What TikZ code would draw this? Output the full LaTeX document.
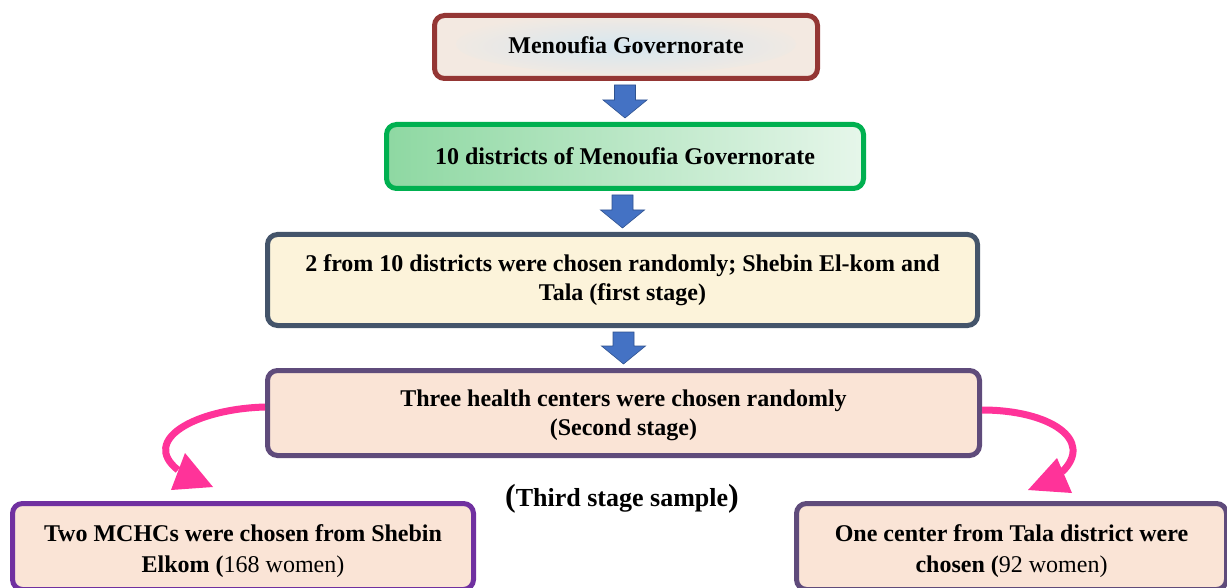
\documentclass[tikz,border=0pt]{standalone}
\usepackage{fontspec}
\setmainfont{Liberation Serif}
\usetikzlibrary{calc,arrows.meta}
\definecolor{bred}{HTML}{943634}
\definecolor{fbeige}{HTML}{F3E9E1}
\definecolor{glow}{HTML}{D6E7F0}
\definecolor{bgreen}{HTML}{00B050}
\definecolor{gleft}{HTML}{8ED8A2}
\definecolor{gright}{HTML}{E6F6EA}
\definecolor{bslate}{HTML}{44546A}
\definecolor{fyellow}{HTML}{FCF3DA}
\definecolor{bpurple}{HTML}{5F4B7B}
\definecolor{bviolet}{HTML}{7030A0}
\definecolor{fpeach}{HTML}{FAE4D6}
\definecolor{arrblue}{HTML}{4472C4}
\definecolor{arrdark}{HTML}{2F528F}
\definecolor{pinkc}{HTML}{FF3399}
\newcommand\blockarr[2]{%
  \filldraw[fill=arrblue, draw=arrdark, line width=0.6pt]
    ($(#2 |- #1)+(-10.5,4)$) -- ($(#2)+(-10.5,-22)$) -- ($(#2)+(-22,-22)$) --
    ($(#2)+(0,-4)$) -- ($(#2)+(22,-22)$) -- ($(#2)+(10.5,-22)$) --
    ($(#2 |- #1)+(10.5,4)$) -- cycle;}
\begin{document}
\begin{tikzpicture}[x=1pt,y=-1pt,
  box/.style={draw, line width=5pt, rounded corners=10pt, align=center, inner sep=0pt,
    font=\fontsize{24}{29}\selectfont\bfseries},
  curv/.style={draw=pinkc, line width=7pt}]
\useasboundingbox (0,0) rectangle (1227,588);
\node[box, draw=bred, fill=fbeige, minimum width=383pt, minimum height=63pt,
  path picture={\shade[inner color=glow, outer color=fbeige] ($(path picture bounding box.center)+(0,-3)$) ellipse (170pt and 30pt);}] (b1) at (626,47) {\raisebox{3pt}{Menoufia Governorate}};
\node[box, draw=bgreen, left color=gleft, right color=gright, minimum width=477pt, minimum height=64pt] (b2) at (625,156.5) {10 districts of Menoufia Governorate};
\node[box, draw=bslate, fill=fyellow, minimum width=710pt, minimum height=91pt] (b3) at (622.5,280) {2 from 10 districts were chosen randomly; Shebin El-kom and\\Tala (first stage)};
\node[box, draw=bpurple, fill=fpeach, minimum width=712pt, minimum height=85pt] (b4) at (623.5,413) {\rule{0pt}{22pt}Three health centers were chosen randomly\\(Second stage)};
\node[box, draw=bviolet, fill=fpeach, minimum width=461pt, minimum height=86pt, font=\fontsize{24}{31}\selectfont\bfseries] (b5) at (243,546.5) {\rule{0pt}{27pt}Two MCHCs were chosen from Shebin\\Elkom (\textmd{168 women)}};
\node[box, draw=bpurple, fill=fpeach, minimum width=430pt, minimum height=86pt, font=\fontsize{24}{31}\selectfont\bfseries] (b6) at (1011.5,546.5) {\rule{0pt}{27pt}One center from Tala district were\\chosen (\textmd{92 women)}};
\node[font=\bfseries] (ts) at (622,499) {\fontsize{32}{34}\selectfont(\fontsize{26}{28}\selectfont Third stage sample\fontsize{32}{34}\selectfont)};
\blockarr{b1.south}{b2.north}
\blockarr{b2.south}{b3.north}
\blockarr{b3.south}{b4.north}
\coordinate (le) at (178,470);
\coordinate (re) at (1062,472);
\draw[curv] ($(b4.west)+(0,-6)$) .. controls (195,409) and (140,440) .. (le);
\fill[pinkc] (185,453) -- (171,490) -- (213,487) -- cycle;
\draw[curv] ($(b4.east)+(0,-3)$) .. controls (1050,410) and (1095,440) .. (re);
\fill[pinkc] (1057,458) -- (1028,490) -- (1072,493) -- cycle;
\end{tikzpicture}
\end{document}
